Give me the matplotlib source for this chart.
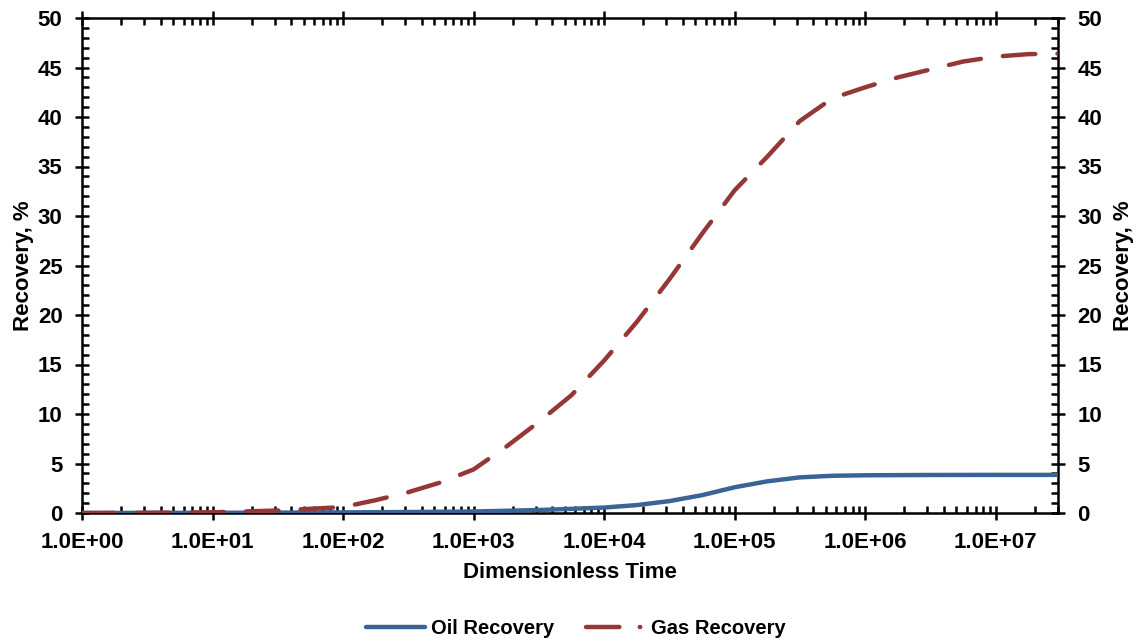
import matplotlib
matplotlib.use("Agg")
import matplotlib.pyplot as plt
from matplotlib.ticker import FixedLocator, LogLocator, NullFormatter, MultipleLocator
from matplotlib.lines import Line2D

# -- data (time is dimensionless, recovery in %)
gas_t = [1, 3.16, 10, 31.6, 100, 178, 316, 562, 1e3, 1.78e3, 3.16e3, 5.62e3,
         1e4, 1.78e4, 3.16e4, 5.62e4, 1e5, 1.78e5, 3.16e5, 5.62e5, 1e6,
         1.78e6, 3.16e6, 5.62e6, 1e7, 1.78e7, 3e7]
gas_rec = [0, 0.02, 0.07, 0.25, 0.6, 1.3, 2.1, 3.1, 4.4, 6.7, 9.2, 11.9,
           15.4, 19.3, 23.6, 28.2, 32.6, 36.0, 39.6, 41.9, 43.0,
           44.0, 44.8, 45.6, 46.1, 46.35, 46.4]
oil_t = [1, 10, 100, 316, 1e3, 3.16e3, 5.62e3, 1e4, 1.78e4, 3.16e4, 5.62e4,
         1e5, 1.78e5, 3.16e5, 5.62e5, 1e6, 3.16e6, 1e7, 3e7]
oil_rec = [0, 0.02, 0.06, 0.1, 0.15, 0.3, 0.42, 0.55, 0.8, 1.2, 1.8,
           2.6, 3.2, 3.6, 3.76, 3.81, 3.84, 3.85, 3.85]
x_ticks = [1e0, 1e1, 1e2, 1e3, 1e4, 1e5, 1e6, 1e7]
x_labels = ["1.0E+00", "1.0E+01", "1.0E+02", "1.0E+03", "1.0E+04",
            "1.0E+05", "1.0E+06", "1.0E+07"]

oil_color = "#3b6496"
gas_color = "#953735"

plt.rcParams["font.family"] = ["Liberation Sans", "DejaVu Sans"]
plt.rcParams["font.weight"] = "bold"
plt.rcParams["axes.linewidth"] = 1.8

fig = plt.figure(figsize=(11.4, 6.43), dpi=100)
ax = fig.add_axes([82 / 1140, 1 - 513 / 643, (1058 - 82) / 1140, (513 - 18) / 643])

#-- the two recovery curves
ax.plot(oil_t, oil_rec, color=oil_color, lw=3.2, solid_capstyle="round",
        solid_joinstyle="round", zorder=3)
ax.plot(gas_t, gas_rec, color=gas_color, lw=3.2, dashes=(7.3, 5.0),
        dash_capstyle="round", dash_joinstyle="round", zorder=4)

#-- axes, ticks on all four sides
ax.set_xscale("log")
ax.set_xlim(1, 3e7)
ax.set_ylim(0, 50)
ax.xaxis.set_major_locator(FixedLocator(x_ticks))
ax.set_xticklabels(x_labels)
ax.xaxis.set_minor_locator(LogLocator(base=10, subs=range(2, 10), numticks=20))
ax.xaxis.set_minor_formatter(NullFormatter())
ax.yaxis.set_major_locator(MultipleLocator(5))
ax.yaxis.set_minor_locator(MultipleLocator(1))

ax.tick_params(which="major", direction="inout", length=10, width=1.8,
               labelsize=16, top=True, right=True, labelright=True, pad=9)
ax.tick_params(which="minor", direction="in", length=5, width=1.8,
               top=True, right=True)
for lab in ax.get_xticklabels() + ax.get_yticklabels():
    lab.set_fontweight("bold")

ax.set_xlabel("Dimensionless Time", fontsize=16, fontweight="bold", labelpad=6)
ax.set_ylabel("Recovery, %", fontsize=16, fontweight="bold", labelpad=3)
fig.text(1124 / 1140, 0.5 * ((1 - 513 / 643) + (1 - 18 / 643)), "Recovery, %",
         rotation=90, ha="center", va="center", fontsize=16, fontweight="bold")

#-- legend below the plot
handles = [Line2D([], [], color=oil_color, lw=3.2, solid_capstyle="round"),
           Line2D([], [], color=gas_color, lw=3.2, dashes=(7.5, 4.6, 0.1, 4.6),
                  dash_capstyle="round")]
fig.legend(handles, ["Oil Recovery", "Gas Recovery"], loc="center",
           bbox_to_anchor=(0.505, 0.022), ncol=2, frameon=False,
           handlelength=2.9, columnspacing=1.6, handletextpad=0.3,
           prop={"weight": "bold", "size": 14.5})

fig.savefig("out.png", dpi=100)
